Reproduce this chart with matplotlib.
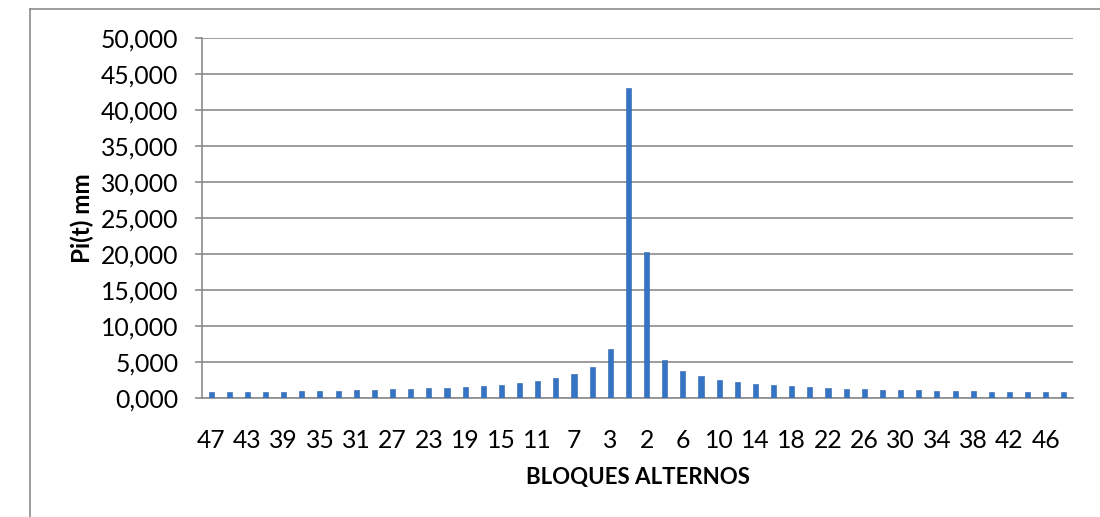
import matplotlib
matplotlib.use("Agg")
import matplotlib.pyplot as plt
from matplotlib.lines import Line2D
from matplotlib.ticker import FuncFormatter

# Block numbers in alternating-block order
left_blocks = list(range(47, 0, -2))      # 47, 45, ..., 3, 1
right_blocks = list(range(2, 49, 2))      # 2, 4, ..., 48
blocks = left_blocks + right_blocks

# Pi(t) values in mm
left_values = [0.83, 0.83, 0.83, 0.83, 0.83, 0.97, 0.97, 0.97, 1.11, 1.11,
               1.25, 1.25, 1.39, 1.39, 1.53, 1.67, 1.81, 2.09, 2.36, 2.78,
               3.34, 4.31, 6.81, 43.05]
right_values = [20.28, 5.28, 3.75, 3.06, 2.50, 2.22, 1.95, 1.81, 1.67, 1.53,
                1.39, 1.25, 1.25, 1.11, 1.11, 1.11, 0.97, 0.97, 0.97, 0.83,
                0.83, 0.83, 0.83, 0.83]
values = left_values + right_values

y_ticks = [0, 5, 10, 15, 20, 25, 30, 35, 40, 45, 50]

FONT = ["Lato", "DejaVu Sans"]
plt.rcParams['font.family'] = FONT

fig = plt.figure(figsize=(11, 5.17), dpi=100)
ax = fig.add_axes([202/1100, 1 - 398/517, (1073 - 202)/1100, (398 - 38)/517])

x = list(range(len(blocks)))
ax.bar(x, values, width=0.28, color='#3574C4', edgecolor='#2D64AA',
       linewidth=0.4, zorder=3)

grey = '#8C8C8C'
ax.set_xlim(-0.5, len(blocks) - 0.5)
ax.set_ylim(0, 50)
ax.set_yticks(y_ticks)
ax.yaxis.set_major_formatter(FuncFormatter(lambda v, p: f"{v:.3f}".replace('.', ',')))
ax.set_xticks(x[::2])
ax.set_xticklabels([str(b) for b in blocks[::2]])

ax.grid(axis='y', color=grey, linewidth=1.2, zorder=0)
for s in ['top', 'right']:
    ax.spines[s].set_visible(False)
for s in ['left', 'bottom']:
    ax.spines[s].set_color(grey)
    ax.spines[s].set_linewidth(1.2)

ax.tick_params(axis='y', length=5, width=1.2, color=grey, labelsize=17.8,
               pad=12, labelcolor='black')
ax.tick_params(axis='x', length=0, labelsize=17.8, pad=22, labelcolor='black')

ax.set_ylabel('Pi(t) mm', fontsize=17.5, fontweight='bold', labelpad=5)
ax.set_xlabel('BLOQUES ALTERNOS', fontsize=16, fontweight='bold', labelpad=11)

# outer chart frame (partly cropped)
fig.add_artist(Line2D([30/1100, 30/1100], [0, 1 - 9/517], transform=fig.transFigure,
                      color='#8C8C8C', linewidth=1.2))
fig.add_artist(Line2D([30/1100, 1], [1 - 9/517, 1 - 9/517], transform=fig.transFigure,
                      color='#8C8C8C', linewidth=1.2))

fig.savefig('out.png', dpi=100)
